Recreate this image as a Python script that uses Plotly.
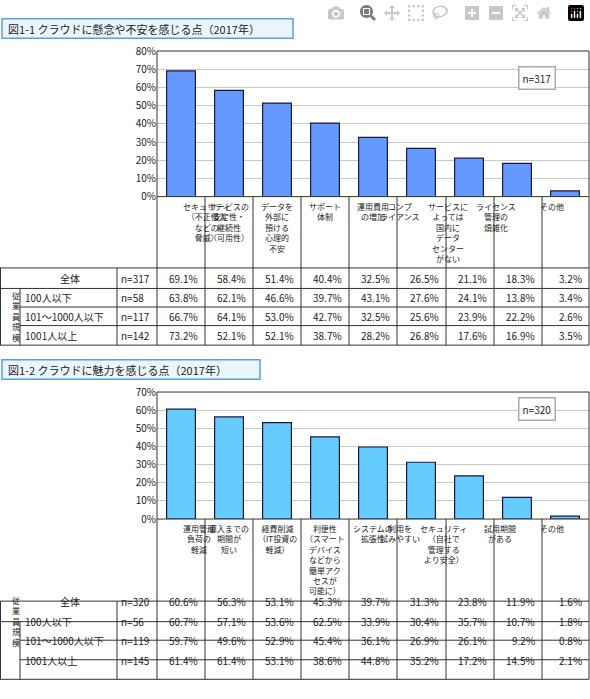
import plotly.graph_objects as go

W, H = 590, 699
cats1 = ["セキュリティ<br>（不正侵入<br>などの<br>脅威）", "サービスの<br>安定性・<br>継続性<br>（可用性）",
         "データを<br>外部に<br>預ける<br>心理的<br>不安", "サポート<br>体制", "運用費用<br>の増加",
         "コンプ<br>ライアンス", "サービスに<br>よっては<br>国内に<br>データ<br>センター<br>がない",
         "ライセンス<br>管理の<br>煩雑化", "その他"]
all1 = [69.1, 58.4, 51.4, 40.4, 32.5, 26.5, 21.1, 18.3, 3.2]
s1_100 = [63.8, 62.1, 46.6, 39.7, 43.1, 27.6, 24.1, 13.8, 3.4]
s1_1000 = [66.7, 64.1, 53.0, 42.7, 32.5, 25.6, 23.9, 22.2, 2.6]
s1_big = [73.2, 52.1, 52.1, 38.7, 28.2, 26.8, 17.6, 16.9, 3.5]
n1 = ["n=317", "n=58", "n=117", "n=142"]

cats2 = ["運用管理<br>負荷の<br>軽減", "導入までの<br>期間が<br>短い", "経費削減<br>（IT投資の<br>軽減）",
         "利便性<br>（スマート<br>デバイス<br>などから<br>簡単アク<br>セスが<br>可能に）", "システムの<br>拡張性",
         "利用を<br>試みやすい", "セキュリティ<br>（自社で<br>管理する<br>より安全）", "試用期間<br>がある", "その他"]
all2 = [60.6, 56.3, 53.1, 45.3, 39.7, 31.3, 23.8, 11.9, 1.6]
s2_100 = [60.7, 57.1, 53.6, 62.5, 33.9, 30.4, 35.7, 10.7, 1.8]
s2_1000 = [59.7, 49.6, 52.9, 45.4, 36.1, 26.9, 26.1, 9.2, 0.8]
s2_big = [61.4, 61.4, 53.1, 38.6, 44.8, 35.2, 17.2, 14.5, 2.1]
n2 = ["n=320", "n=56", "n=119", "n=145"]
row_names = ["全体", "100人以下", "101～1000人以下", "1001人以上"]
titles = ["図1-1 クラウドに懸念や不安を感じる点（2017年）", "図1-2 クラウドに魅力を感じる点（2017年）"]

FONT = "Noto Sans CJK JP"
def X(p): return p / W
def Y(p): return 1 - p / H

fig = go.Figure()
shapes, ann = [], []
colbounds = [157, 205, 253, 301, 349, 397, 446, 494, 542, 589]

def block(idx, cats, vals, rows, ns, color, ytop, ybot, ymax, title_y, title_w, rowlines, nbox):
    xa = "x" if idx == 1 else "x2"
    ya = "y" if idx == 1 else "y2"
    fig.add_trace(go.Bar(x=list(range(9)), y=vals, marker=dict(color=color, line=dict(color="#1a1a3a", width=1.2)),
                         width=0.6, xaxis=xa, yaxis=ya, showlegend=False, hoverinfo="skip"))
    ax = dict(domain=[X(157), X(589)], range=[-0.5, 8.5], showticklabels=False, showgrid=False, zeroline=False,
              fixedrange=True)
    ay = dict(domain=[Y(ybot), Y(ytop)], range=[0, ymax], dtick=10, ticksuffix="%", showgrid=True,
              gridcolor="#c8c8c8", zeroline=False, tickfont=dict(family=FONT, size=10, color="#222"), ticks="")
    fig.update_layout(**{("xaxis" if idx == 1 else "xaxis2"): ax, ("yaxis" if idx == 1 else "yaxis2"): ay})
    shapes.append(dict(type="rect", xref="paper", yref="paper", x0=X(157), x1=X(589), y0=Y(ybot), y1=Y(ytop),
                       line=dict(color="#333", width=1)))
    shapes.append(dict(type="rect", xref="paper", yref="paper", x0=X(2), x1=X(title_w), y0=Y(title_y + 10),
                       y1=Y(title_y - 10), line=dict(color="#5aa0e0", width=1.5), fillcolor="#eaf6fc"))
    ann.append(dict(x=X(6), y=Y(title_y), xref="paper", yref="paper", text=titles[idx - 1], showarrow=False,
                    xanchor="left", yanchor="middle", font=dict(family=FONT, size=11, color="#222")))
    ann.append(dict(x=X(nbox[0]), y=Y(nbox[1]), xref="paper", yref="paper", text=ns[0], showarrow=False,
                    bordercolor="#aaa", borderwidth=1.5, borderpad=3, bgcolor="white",
                    font=dict(family=FONT, size=10, color="#222")))
    for i, c in enumerate(cats):
        cx = (colbounds[i] + colbounds[i + 1]) / 2
        ann.append(dict(x=X(cx), y=Y(ybot + 2), xref="paper", yref="paper", text=c, showarrow=False,
                        yanchor="top", align="center", font=dict(family=FONT, size=8, color="#222")))
    for b in colbounds:
        shapes.append(dict(type="line", xref="paper", yref="paper", x0=X(b), x1=X(b), y0=Y(ybot), y1=Y(rowlines[-1]),
                           line=dict(color="#333", width=1)))
    for k, r in enumerate(rowlines):
        shapes.append(dict(type="line", xref="paper", yref="paper", x0=X(0 if k in (0, 1, 4) else 20), x1=X(589),
                           y0=Y(r), y1=Y(r), line=dict(color="#333", width=1)))
    for xv, top in [(0.5, rowlines[0]), (20, rowlines[1]), (117, rowlines[0])]:
        shapes.append(dict(type="line", xref="paper", yref="paper", x0=X(xv), x1=X(xv), y0=Y(top), y1=Y(rowlines[-1]),
                           line=dict(color="#333", width=1)))
    for k in range(4):
        cy = (rowlines[k] + rowlines[k + 1]) / 2
        if k == 0:
            ann.append(dict(x=X(58), y=Y(cy), xref="paper", yref="paper", text=row_names[0], showarrow=False,
                            font=dict(family=FONT, size=10, color="#222")))
        else:
            ann.append(dict(x=X(23), y=Y(cy), xref="paper", yref="paper", text=row_names[k], showarrow=False,
                            xanchor="left", font=dict(family=FONT, size=10, color="#222")))
        ann.append(dict(x=X(119), y=Y(cy), xref="paper", yref="paper", text=ns[k], showarrow=False,
                        xanchor="left", font=dict(family=FONT, size=10, color="#222")))
        for i, v in enumerate(rows[k]):
            ann.append(dict(x=X(colbounds[i + 1] - 5), y=Y(cy), xref="paper", yref="paper", text=f"{v:.1f}%",
                            showarrow=False, xanchor="right", font=dict(family=FONT, size=10, color="#222")))
    ann.append(dict(x=X(10), y=Y((rowlines[1] + rowlines[4]) / 2), xref="paper", yref="paper",
                    text="従<br>業<br>員<br>規<br>模", showarrow=False, font=dict(family=FONT, size=8, color="#222")))

block(1, cats1, all1, [all1, s1_100, s1_1000, s1_big], n1, "#6699ff", 43, 192, 80, 20, 293,
      [265, 286, 305, 324, 344], (556, 58))
block(2, cats2, all2, [all2, s2_100, s2_1000, s2_big], n2, "#66ccff", 392, 522, 70, 369, 260,
      [606, 627, 646, 666, 686], (556, 409))

fig.update_layout(width=W, height=H, margin=dict(l=0, r=0, t=0, b=0), plot_bgcolor="white", paper_bgcolor="white",
                  shapes=shapes, annotations=ann, bargap=0.4)
fig.write_html("out.html", post_script="document.body.style.margin='0';document.body.style.overflow='hidden';")
